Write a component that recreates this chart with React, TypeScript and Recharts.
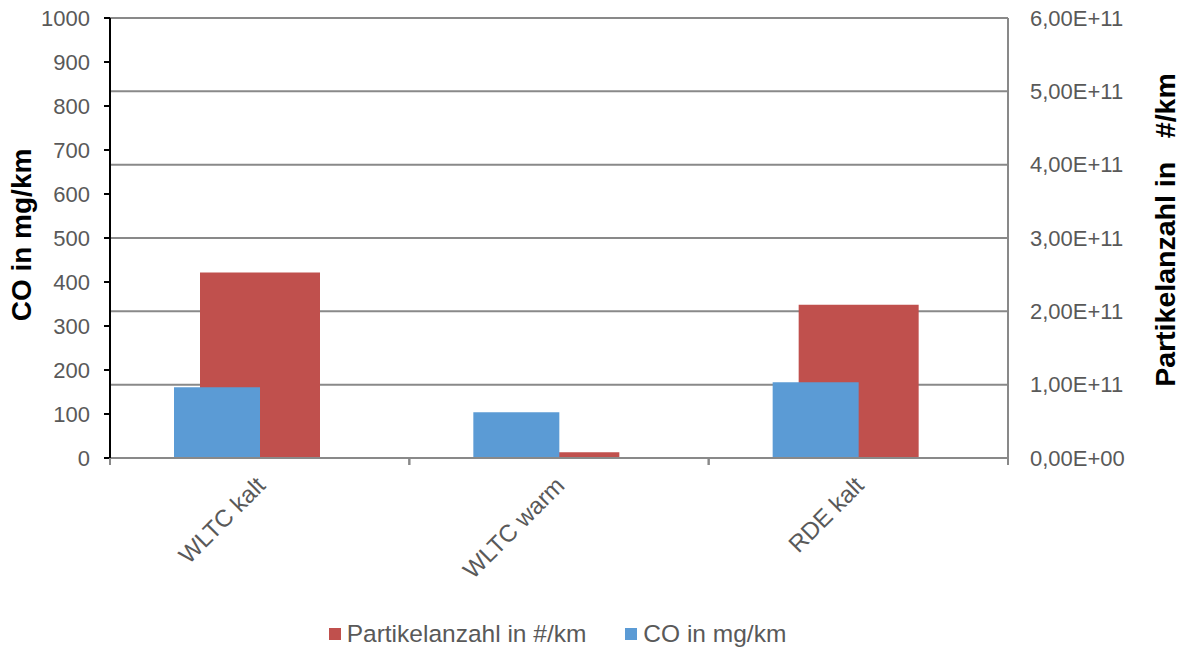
import React from 'react';
import { BarChart, Bar, XAxis, YAxis, CartesianGrid, Legend, Label } from 'recharts';

const categories = ['WLTC kalt', 'WLTC warm', 'RDE kalt'];
const coValues = [161, 104, 172];
const particleValues = [2.53e11, 0.08e11, 2.09e11];
const leftTicks = [0, 100, 200, 300, 400, 500, 600, 700, 800, 900, 1000];
const rightTicks = [0, 1e11, 2e11, 3e11, 4e11, 5e11, 6e11];
const legendOrder = ['Partikelanzahl in #/km', 'CO in mg/km'];

const data = categories.map((name, i) => ({
  name,
  co: coValues[i],
  pn: particleValues[i],
  spacer: null,
}));

const FONT = '"Liberation Sans", Arial, sans-serif';
const AXIS_GRAY = '#898989';

const sciFormat = (v: number) => {
  if (v === 0) return '0,00E+00';
  const exp = Math.floor(Math.log10(v));
  const mant = v / Math.pow(10, exp);
  return `${mant.toFixed(2).replace('.', ',')}E+${String(exp).padStart(2, '0')}`;
};

// category label rotated -45deg, plus the small tick marks on the band edges
const CategoryTick: React.FC<any> = ({ x, y, payload }) => {
  const half = payload.offset || 0;
  const ax = x + 7;
  const ay = y + 29;
  return (
    <g>
      <line x1={x - half} x2={x - half} y1={y} y2={y + 7} stroke={AXIS_GRAY} strokeWidth={2} />
      <line x1={x + half} x2={x + half} y1={y} y2={y + 7} stroke={AXIS_GRAY} strokeWidth={2} />
      <text
        x={ax}
        y={ay}
        transform={`rotate(-45, ${ax}, ${ay})`}
        textAnchor="end"
        fill="#595959"
        fontSize={24}
        fontFamily={FONT}
      >
        {payload.value}
      </text>
    </g>
  );
};

const LegendContent: React.FC<any> = ({ payload }) => {
  const items = (payload || [])
    .filter((p: any) => p.type !== 'none' && legendOrder.includes(p.value))
    .sort((a: any, b: any) => legendOrder.indexOf(a.value) - legendOrder.indexOf(b.value));
  return (
    <div
      style={{
        display: 'flex',
        justifyContent: 'center',
        alignItems: 'center',
        height: 36,
        paddingRight: 70,
        fontFamily: FONT,
        fontSize: 24.5,
        color: '#595959',
      }}
    >
      {items.map((p: any, i: number) => (
        <div key={i} style={{ display: 'flex', alignItems: 'center', marginLeft: i ? 39 : 0 }}>
          <span style={{ display: 'inline-block', width: 12, height: 12, background: p.color, marginRight: 6 }} />
          <span>{p.value}</span>
        </div>
      ))}
    </div>
  );
};

export default function App() {
  return (
    <div style={{ position: 'absolute', left: 0, top: 0, background: '#fff' }}>
      <BarChart
        width={1185}
        height={652}
        data={data}
        margin={{ top: 18, right: 0, left: 0, bottom: 0 }}
        barGap={0}
      >
        <CartesianGrid
          xAxisId="red"
          yAxisId="right"
          vertical={false}
          stroke={AXIS_GRAY}
          strokeWidth={2}
        />
        <XAxis
          xAxisId="red"
          dataKey="name"
          height={158}
          axisLine={{ stroke: AXIS_GRAY, strokeWidth: 2 }}
          tickLine={false}
          tickSize={0}
          tickMargin={0}
          interval={0}
          tick={<CategoryTick />}
        />
        <XAxis xAxisId="blue" dataKey="name" hide height={0} />
        <YAxis
          yAxisId="left"
          orientation="left"
          width={110}
          domain={[0, 1000]}
          ticks={leftTicks}
          interval={0}
          axisLine={{ stroke: '#000', strokeWidth: 2 }}
          tickLine={{ stroke: '#000', strokeWidth: 2 }}
          tickSize={6}
          tickMargin={14}
          tick={{ fill: '#595959', fontSize: 22, fontFamily: FONT }}
        >
          <Label
            value="CO in mg/km"
            angle={-90}
            position="center"
            dx={-34}
            dy={-3}
            style={{ fontWeight: 'bold', fontSize: 28, fill: '#000', fontFamily: FONT }}
          />
        </YAxis>
        <YAxis
          yAxisId="right"
          orientation="right"
          width={177}
          domain={[0, 6e11]}
          ticks={rightTicks}
          interval={0}
          axisLine={{ stroke: AXIS_GRAY, strokeWidth: 2 }}
          tickLine={false}
          tickSize={0}
          tickMargin={22}
          tickFormatter={sciFormat}
          tick={{ fill: '#595959', fontSize: 22, fontFamily: FONT }}
        >
          <Label
            value={'Partikelanzahl in\u00A0\u00A0\u00A0#/km'}
            angle={-90}
            position="center"
            dx={68}
            dy={-8}
            style={{ fontWeight: 'bold', fontSize: 28.5, fill: '#000', fontFamily: FONT }}
          />
        </YAxis>
        <Legend verticalAlign="bottom" content={<LegendContent />} />
        <Bar
          xAxisId="red"
          yAxisId="right"
          dataKey="pn"
          name="Partikelanzahl in #/km"
          fill="#C0504D"
          barSize={120}
          isAnimationActive={false}
        />
        <Bar
          xAxisId="blue"
          yAxisId="left"
          dataKey="co"
          name="CO in mg/km"
          fill="#5B9BD5"
          barSize={86}
          isAnimationActive={false}
        />
        <Bar
          xAxisId="blue"
          yAxisId="left"
          dataKey="spacer"
          legendType="none"
          fill="transparent"
          barSize={86}
          isAnimationActive={false}
        />
      </BarChart>
    </div>
  );
}
